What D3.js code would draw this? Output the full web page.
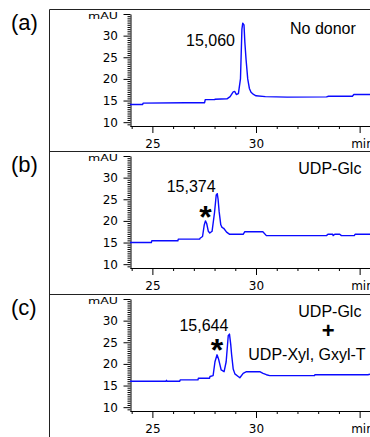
<!DOCTYPE html>
<html>
<head>
<meta charset="utf-8">
<script src="https://cdn.jsdelivr.net/npm/d3@7"></script>
<style>
  body { margin: 0; background: #fff; }
  svg { display: block; }
</style>
</head>
<body>
<div id="chart"></div>
<script>
// traces: [retention time (min), absorbance (mAU)]
const traceA = [
  [23.92, 14.1], [24.53, 14.1], [24.55, 14.4], [26.57, 14.5], [27.52, 14.5],
  [27.55, 15.2], [28.00, 15.2], [28.02, 15.3], [28.60, 15.4], [28.75, 15.9],
  [28.90, 17.0], [28.97, 17.1], [29.05, 16.4], [29.15, 16.6], [29.25, 20.0],
  [29.32, 31.5], [29.36, 32.9], [29.42, 32.5], [29.46, 28.6], [29.52, 24.5],
  [29.60, 20.0], [29.68, 17.8], [29.76, 16.9], [29.88, 16.4], [30.00, 16.1],
  [30.45, 15.9], [31.50, 15.8], [33.40, 15.85], [33.50, 16.0], [34.65, 16.0],
  [34.72, 16.4], [35.50, 16.4]
];
const traceB = [
  [23.92, 15.0], [24.95, 15.0], [24.97, 15.4], [26.23, 15.4], [26.25, 15.8],
  [27.28, 15.8], [27.30, 16.0], [27.42, 16.4], [27.50, 19.0], [27.56, 20.0],
  [27.62, 19.4], [27.70, 17.6], [27.77, 17.2], [27.88, 17.6], [28.00, 22.0],
  [28.08, 26.0], [28.13, 26.3], [28.17, 25.0], [28.22, 22.2], [28.30, 19.1],
  [28.36, 18.5], [28.44, 18.3], [28.58, 17.4], [28.73, 16.9], [29.38, 16.9],
  [29.46, 17.5], [30.33, 17.5], [30.50, 16.6], [33.40, 16.6], [33.47, 16.9],
  [33.70, 16.9], [33.72, 16.6], [33.80, 16.9], [34.04, 16.9], [34.12, 16.6],
  [34.74, 16.6], [34.78, 16.9], [35.50, 16.9]
];
const traceC = [
  [23.92, 16.0], [25.66, 16.0], [25.68, 16.2], [25.70, 16.0], [26.32, 16.0],
  [26.34, 16.3], [27.20, 16.3], [27.22, 16.7], [27.76, 16.7], [27.78, 17.1],
  [27.93, 17.3], [28.02, 20.5], [28.12, 22.1], [28.20, 21.0], [28.32, 18.6],
  [28.46, 18.2], [28.56, 20.5], [28.66, 26.5], [28.72, 26.9], [28.78, 24.5],
  [28.82, 22.3], [28.90, 18.8], [28.98, 17.7], [29.14, 17.1], [29.22, 16.8],
  [29.38, 17.8], [29.54, 18.2], [30.18, 18.2], [30.34, 17.8], [30.50, 17.5],
  [30.66, 17.3], [32.82, 17.3], [32.84, 17.5], [35.40, 17.5], [35.50, 17.6]
];
const traces = [traceA, traceB, traceC];

const panelNames = ['(a)', '(b)', '(c)'];
const peakLabels = ['15,060', '15,374', '15,644'];
const donorLabels = ['No donor', 'UDP-Glc', 'UDP-Glc'];
const starPeaks = [null, 27.56, 28.12];   // peak marked with *
const xMajor = [25, 30, 35];
const xMinor = [24, 26, 27, 28, 29, 31, 32, 33, 34];
const yMajor = [10, 15, 20, 25, 30, 35];
const yMinor = d3.range(9.5, 35, 0.5).filter(v => v % 5 !== 0);

const W = 370, H = 437;
const frameLeft = 49.5;
const panelTops = [9.5, 151.5, 294.5];

const svg = d3.select('#chart').append('svg')
  .attr('width', W)
  .attr('height', H);

// shared time axis
const x = d3.scaleLinear().domain([23.92, 35.5]).range([130, 370]);

const line = d3.line();

const annoFont = "'Liberation Sans', Arial, sans-serif";
const tickFont = "'DejaVu Sans', Verdana, sans-serif";

// left frame line
svg.append('line')
  .attr('x1', frameLeft).attr('x2', frameLeft)
  .attr('y1', panelTops[0]).attr('y2', H)
  .attr('stroke', '#222');

panelTops.forEach((top, i) => {
  const y = d3.scaleLinear().domain([9, 35]).range([top + 117, top + 4.5]);
  const g = svg.append('g').attr('class', 'panel');

  // panel top border
  g.append('line')
    .attr('x1', frameLeft).attr('x2', W)
    .attr('y1', top).attr('y2', top)
    .attr('stroke', '#222');

  g.append('text')
    .attr('x', 11).attr('y', top + 20)
    .attr('font-family', annoFont)
    .attr('font-size', 22)
    .text(panelNames[i]);

  // y axis: minor then major ticks
  const yMin = g.append('g')
    .attr('transform', 'translate(130.5,0)')
    .call(d3.axisLeft(y).tickValues(yMinor).tickSize(3).tickSizeOuter(0).tickFormat(''));
  yMin.select('.domain').remove();

  const yAx = g.append('g')
    .attr('transform', 'translate(130.5,0)')
    .call(d3.axisLeft(y).tickValues(yMajor).tickSize(7).tickSizeOuter(0)
      .tickFormat(d => d === 35 ? 'mAU' : d));
  yAx.selectAll('text')
    .attr('x', -12.5)
    .attr('font-family', tickFont)
    .attr('font-size', 12)
    .attr('fill', '#000');
  yAx.selectAll('.tick').filter(d => d === 35).select('text')
    .attr('font-size', 9.5)
    .attr('dy', '0.45em')
    .attr('textLength', 30)
    .attr('lengthAdjust', 'spacingAndGlyphs');

  // x axis
  const xBase = top + 116.5;
  const xMin = g.append('g')
    .attr('transform', `translate(0,${xBase})`)
    .call(d3.axisBottom(x).tickValues(xMinor).tickSize(3).tickSizeOuter(0).tickFormat(''));
  xMin.select('.domain').remove();

  const xAx = g.append('g')
    .attr('transform', `translate(0,${xBase})`)
    .call(d3.axisBottom(x).tickValues(xMajor).tickSize(7).tickSizeOuter(0)
      .tickFormat(d => d === 35 ? 'min' : d));
  xAx.selectAll('text')
    .attr('y', 22)
    .attr('dy', 0)
    .attr('font-family', tickFont)
    .attr('font-size', 12)
    .attr('fill', '#000');
  xAx.selectAll('.tick').filter(d => d === 35).select('text')
    .attr('text-anchor', 'start')
    .attr('x', -9);

  g.selectAll('.domain, .tick line').attr('stroke', '#000');

  // chromatogram
  g.append('path')
    .datum(traces[i])
    .attr('d', line.x(d => x(d[0])).y(d => y(d[1])))
    .attr('fill', 'none')
    .attr('stroke', '#0a0aff')
    .attr('stroke-width', 1.4)
    .attr('stroke-linejoin', 'round');

  // peak mass and donor labels
  const peakX = [186, 166.7, 179.4];
  const peakY = [36.7, 40.2, 36.2];
  g.append('text')
    .attr('x', peakX[i]).attr('y', top + peakY[i])
    .attr('font-family', annoFont)
    .attr('font-size', 16)
    .text(peakLabels[i]);

  g.append('text')
    .attr('x', i === 0 ? 290 : 298.3)
    .attr('y', top + (i === 0 ? 24.8 : 22.3))
    .attr('font-family', annoFont)
    .attr('font-size', 16)
    .text(donorLabels[i]);

  if (starPeaks[i] !== null) {
    g.append('text')
      .attr('x', x(starPeaks[i]))
      .attr('y', top + (i === 1 ? 76 : 66))
      .attr('text-anchor', 'middle')
      .attr('font-family', annoFont)
      .attr('font-weight', 'bold')
      .attr('font-size', 32)
      .text('*');
  }

  if (i === 2) {
    g.append('text')
      .attr('x', 328.3).attr('y', top + 43.5)
      .attr('text-anchor', 'middle')
      .attr('font-family', annoFont)
      .attr('font-weight', 'bold')
      .attr('font-size', 22)
      .text('+');
    g.append('text')
      .attr('x', 248.3).attr('y', top + 65)
      .attr('font-family', annoFont)
      .attr('font-size', 16)
      .text('UDP-Xyl, Gxyl-T');
  }
});
</script>
</body>
</html>
